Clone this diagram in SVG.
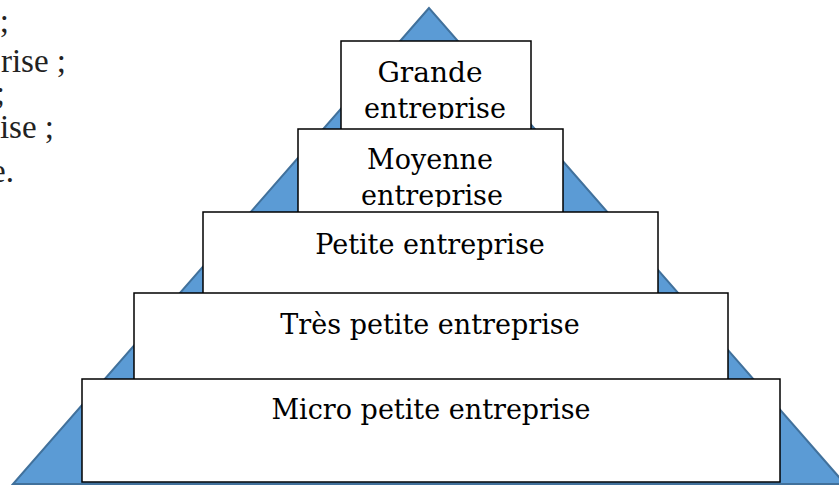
<svg xmlns="http://www.w3.org/2000/svg" width="839" height="486" viewBox="0 0 839 486">
<style>
.box{fill:#fff;stroke:#000;stroke-width:1.5}
.lbl{font-family:"DejaVu Serif","Liberation Serif",serif;font-size:27px;fill:#000;text-anchor:middle}
.side{font-family:"Liberation Serif","DejaVu Serif",serif;font-size:33px;fill:#222;text-anchor:end}
</style>
<defs>
<clipPath id="clipG"><rect x="341" y="41" width="190" height="78"/></clipPath>
<clipPath id="clipM"><rect x="298" y="129" width="265" height="78"/></clipPath>
</defs>
<g id="side-text">
<text class="side" x="9" y="32">;</text>
<text class="side" x="66" y="72">rise ;</text>
<text class="side" x="5" y="104">;</text>
<text class="side" x="54" y="138">ise ;</text>
<text class="side" x="14" y="182">e.</text>
</g>
<g id="pyramid">
<polygon points="429,8 13,484 845,484" fill="#5B9BD5" stroke="#41719C" stroke-width="2"/>
</g>
<g id="grande">
<rect class="box" x="341" y="41" width="190" height="100"/>
<g clip-path="url(#clipG)">
<text class="lbl" x="430" y="82" style="font-size:28px">Grande</text>
<text class="lbl" x="435" y="118">entreprise</text>
</g>
</g>
<g id="moyenne">
<rect class="box" x="298" y="129" width="265" height="100"/>
<g clip-path="url(#clipM)">
<text class="lbl" x="430" y="169">Moyenne</text>
<text class="lbl" x="432" y="205">entreprise</text>
</g>
</g>
<g id="petite">
<rect class="box" x="203" y="212" width="455" height="100"/>
<text class="lbl" x="430" y="254">Petite entreprise</text>
</g>
<g id="tres-petite">
<rect class="box" x="134" y="293" width="594" height="100"/>
<text class="lbl" x="430" y="334">Très petite entreprise</text>
</g>
<g id="micro">
<rect class="box" x="82" y="379" width="698" height="103"/>
<text class="lbl" x="431" y="419">Micro petite entreprise</text>
</g>
</svg>
